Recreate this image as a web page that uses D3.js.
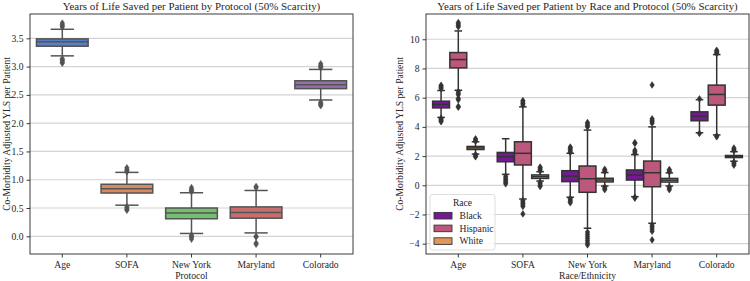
<!DOCTYPE html>
<html><head><meta charset="utf-8">
<script src="https://cdn.jsdelivr.net/npm/d3@7"></script>
<style>
body{margin:0;background:#fff;}
</style></head>
<body><svg id="c" width="750" height="281" font-family="Liberation Serif"></svg>
<script>
// ---------- Left panel data ----------
const protocols = ["Age","SOFA","New York","Maryland","Colorado"];
const protoColors = ["#597dbf","#da8a5f","#76bf71","#c76e6e","#946fab"];
const protoQ1 = [3.36, 0.765, 0.31, 0.32, 2.61];
const protoMedian = [3.44, 0.84, 0.41, 0.42, 2.68];
const protoQ3 = [3.49, 0.92, 0.50, 0.52, 2.75];
const protoWhiskLo = [3.19, 0.55, 0.05, 0.06, 2.41];
const protoWhiskHi = [3.66, 1.13, 0.77, 0.81, 2.95];
const protoOutliers = [
  [3.70,3.72,3.74,3.77, 3.06,3.08,3.10,3.12,3.14],
  [1.14,1.16,1.18,1.21, 0.52,0.50,0.48,0.46],
  [0.79,0.81,0.83,0.86, 0.02,0.00,-0.02,-0.05],
  [0.86,0.88, 0.00,-0.01, -0.12,-0.14],
  [2.98,3.00,3.02,3.05, 2.37,2.35,2.33,2.31]
];
const leftTicks = [0.0,0.5,1.0,1.5,2.0,2.5,3.0,3.5];

// ---------- Right panel data ----------
const races = ["Black","Hispanic","White"];
const raceColors = ["#741894","#bb587c","#e19757"];
const raceQ1 = [
  [5.30, 1.61, 0.25, 0.36, 4.42],
  [8.04, 1.39, -0.48, -0.10, 5.49],
  [2.45, 0.47, 0.23, 0.22, 1.90]
];
const raceMedian = [
  [5.54, 1.95, 0.62, 0.70, 4.74],
  [8.61, 2.19, 0.45, 0.86, 6.22],
  [2.56, 0.59, 0.36, 0.35, 1.97]
];
const raceQ3 = [
  [5.76, 2.25, 1.00, 1.05, 5.03],
  [9.09, 2.98, 1.32, 1.66, 6.86],
  [2.66, 0.71, 0.48, 0.47, 2.04]
];
const raceWhiskLo = [
  [4.65, 0.75, -0.82, -0.78, 3.60],
  [6.51, -0.94, -2.94, -2.60, 3.45],
  [2.14, 0.29, -0.05, -0.05, 1.65]
];
const raceWhiskHi = [
  [6.49, 3.19, 2.19, 2.10, 5.86],
  [10.57, 5.37, 3.78, 4.00, 8.95],
  [2.98, 0.93, 0.87, 0.85, 2.30]
];
const raceOutliers = [
  [ [6.62,6.70,6.78,6.85, 4.58,4.50,4.42,4.35],
    [0.62,0.50,0.40,0.30,0.20,0.10],
    [2.25,2.35,2.45,2.55,2.62, -0.90,-1.00,-1.10,-1.20],
    [2.20,2.30,2.40, 2.87,2.92, -0.82,-0.88],
    [5.92, 3.55] ],
  [ [10.85,10.95,11.05,11.15, 6.40,6.30,6.20,5.95,5.85,5.40,5.35],
    [5.50,5.60,5.70,5.80, -1.05,-1.15,-1.25,-1.35,-1.45, -1.96],
    [4.00,4.10,4.20,4.30, -3.20,-3.35,-3.50,-3.65,-3.80,-3.95,-4.08],
    [4.25,4.35,4.45,4.55, 6.87, -2.72,-2.85,-3.00,-3.15, -3.74],
    [9.02,9.10,9.18,9.25, 3.38,3.32] ],
  [ [3.02,3.10,3.18, 2.10,2.00,1.95],
    [0.98,1.08,1.18,1.25, 0.20,0.10,0.00,-0.08],
    [0.95,1.03,1.10, -0.12,-0.20,-0.30],
    [0.92,1.00,1.08, -0.12,-0.20,-0.30],
    [2.38,2.46,2.55, 1.58,1.48,1.38] ]
];
const rightTicks = [-4,-2,0,2,4,6,8,10];

const FONT = "Liberation Serif";
const svg = d3.select("#c");
const FS = 9.6;
const TXT = "#262626";

function diamond(g, x, y, color){
  g.append("path")
    .attr("d", `M${x},${y-3.3}L${x+2.2},${y}L${x},${y+3.3}L${x-2.2},${y}Z`)
    .attr("fill", color).attr("stroke", color).attr("stroke-width", 0.6);
}

function drawBox(g, cx, w, y, q1, med, q3, lo, hi, outs, fill, line){
  const capW = w*0.45;
  g.append("line").attr("x1",cx).attr("x2",cx).attr("y1",y(q3)).attr("y2",y(hi)).attr("stroke",line).attr("stroke-width",1.5);
  g.append("line").attr("x1",cx).attr("x2",cx).attr("y1",y(q1)).attr("y2",y(lo)).attr("stroke",line).attr("stroke-width",1.5);
  g.append("line").attr("x1",cx-capW/2).attr("x2",cx+capW/2).attr("y1",y(hi)).attr("y2",y(hi)).attr("stroke",line).attr("stroke-width",1.5);
  g.append("line").attr("x1",cx-capW/2).attr("x2",cx+capW/2).attr("y1",y(lo)).attr("y2",y(lo)).attr("stroke",line).attr("stroke-width",1.5);
  g.append("rect").attr("x",cx-w/2).attr("width",w).attr("y",y(q3)).attr("height",Math.max(0.5,y(q1)-y(q3)))
    .attr("fill",fill).attr("stroke",line).attr("stroke-width",1.5);
  g.append("line").attr("x1",cx-w/2).attr("x2",cx+w/2).attr("y1",y(med)).attr("y2",y(med)).attr("stroke",line).attr("stroke-width",1.5);
  outs.forEach(v => diamond(g, cx, y(v), line));
}

function txt(g){ return g.append("text").attr("font-family",FONT).attr("fill",TXT); }

function panel(opts){
  const {x0,x1,y0,y1,domain,ticks,fmt,title,xlabel} = opts;
  const g = svg.append("g");
  const x = d3.scaleBand().domain(protocols).range([x0,x1]).padding(0);
  const y = d3.scaleLinear().domain(domain).range([y1,y0]);
  g.append("g").selectAll("line").data(ticks).join("line")
    .attr("x1",x0).attr("x2",x1).attr("y1",d=>y(d)).attr("y2",d=>y(d))
    .attr("stroke","#d3d3d3").attr("stroke-width",1.2);
  const ya = g.append("g").attr("transform",`translate(${x0},0)`)
    .call(d3.axisLeft(y).tickValues(ticks).tickFormat(fmt).tickSize(3.5).tickPadding(3));
  const xa = g.append("g").attr("transform",`translate(0,${y1})`)
    .call(d3.axisBottom(x).tickSize(3.5).tickPadding(4));
  [ya,xa].forEach(a=>{
    a.attr("font-family",FONT).attr("font-size",FS);
    a.select(".domain").remove();
    a.selectAll(".tick line").attr("stroke",TXT).attr("stroke-width",0.9);
    a.selectAll(".tick text").attr("font-family",FONT).attr("font-size",FS).attr("fill",TXT);
  });
  opts.draw(g, x, y);
  g.append("rect").attr("x",x0).attr("y",y0).attr("width",x1-x0).attr("height",y1-y0)
    .attr("fill","none").attr("stroke",TXT).attr("stroke-width",0.9);
  txt(g).attr("x",(x0+x1)/2).attr("y",y0-4.5).attr("text-anchor","middle").attr("font-size",10.9).text(title);
  txt(g).attr("x",(x0+x1)/2).attr("y",279).attr("text-anchor","middle").attr("font-size",FS).text(xlabel);
  txt(g).attr("transform",`translate(${opts.ylx},${(y0+y1)/2}) rotate(-90)`)
    .attr("text-anchor","middle").attr("font-size",FS).text("Co-Morbidity Adjusted YLS per Patient");
  return {g,x,y};
}

panel({x0:30,x1:353,y0:14,y1:254,domain:[-0.313,3.93],ticks:leftTicks,fmt:d3.format(".1f"),
  title:"Years of Life Saved per Patient by Protocol (50% Scarcity)",xlabel:"Protocol",ylx:10,
  draw:(g,x,y)=>{
    const line="#545454";
    protocols.forEach((p,i)=>{
      const cx = x(p)+x.bandwidth()/2, w = x.bandwidth()*0.8;
      drawBox(g,cx,w,y,protoQ1[i],protoMedian[i],protoQ3[i],protoWhiskLo[i],protoWhiskHi[i],protoOutliers[i],protoColors[i],line);
    });
  }});

panel({x0:426,x1:749,y0:14,y1:254,domain:[-4.705,11.73],ticks:rightTicks,fmt:d=>d<0?"\u2212"+Math.abs(d):String(d),
  title:"Years of Life Saved per Patient by Race and Protocol (50% Scarcity)",xlabel:"Race/Ethnicity",ylx:403,
  draw:(g,x,y)=>{
    const line="#333333";
    protocols.forEach((p,i)=>{
      const bw = x.bandwidth()*0.8, w = bw/3;
      races.forEach((r,j)=>{
        const cx = x(p)+x.bandwidth()/2 + (j-1)*w;
        drawBox(g,cx,w*0.98,y,raceQ1[j][i],raceMedian[j][i],raceQ3[j][i],raceWhiskLo[j][i],raceWhiskHi[j][i],raceOutliers[j][i],raceColors[j],line);
      });
    });
    const lg = g.append("g");
    lg.append("rect").attr("x",430).attr("y",194.5).attr("width",65).attr("height",55.5).attr("rx",2.5)
      .attr("fill","#fff").attr("fill-opacity",0.85).attr("stroke","#d9d9d9").attr("stroke-width",0.9);
    txt(lg).attr("x",462.5).attr("y",206).attr("text-anchor","middle").attr("font-size",FS).text("Race");
    races.forEach((r,j)=>{
      const cy = 215.7 + j*12.7;
      lg.append("rect").attr("x",434).attr("y",cy-3.3).attr("width",18).attr("height",6.6)
        .attr("fill",raceColors[j]).attr("stroke",line).attr("stroke-width",0.9);
      txt(lg).attr("x",459.5).attr("y",cy+3.3).attr("font-size",FS).text(r);
    });
  }});
</script></body></html>
